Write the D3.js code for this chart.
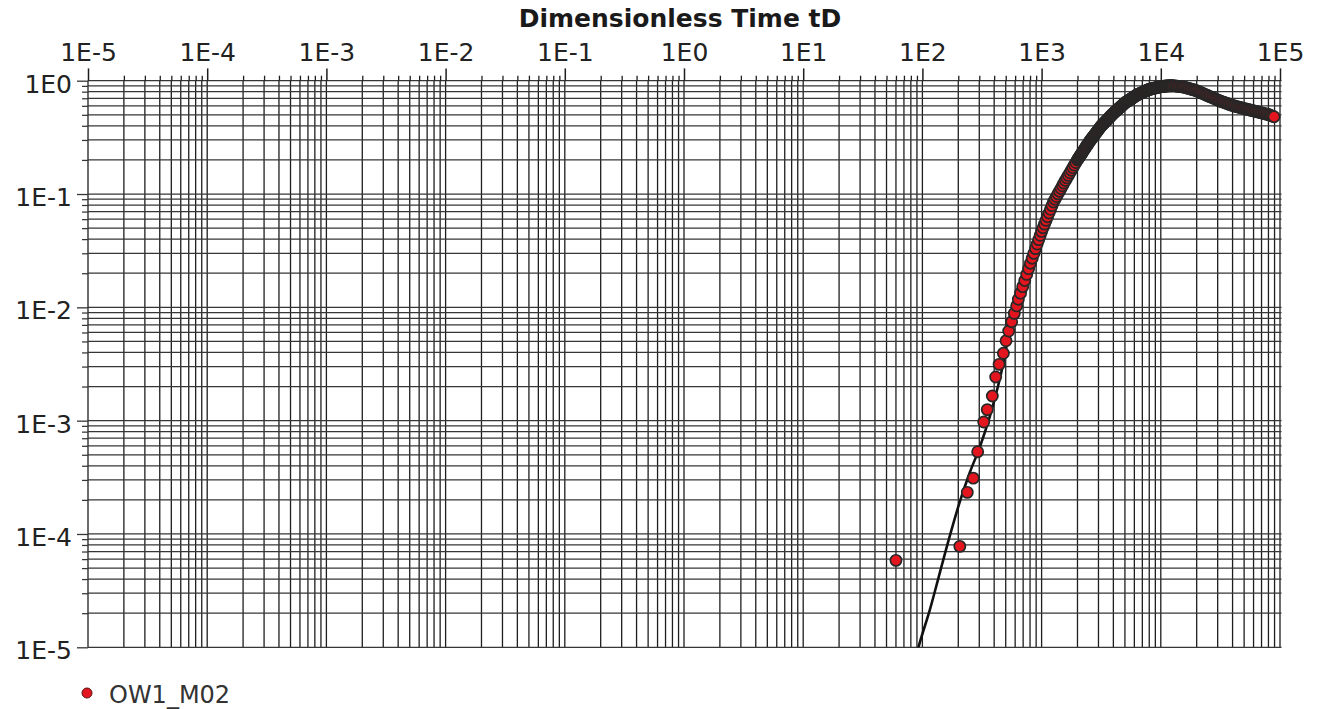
<!DOCTYPE html>
<html>
<head>
<meta charset="utf-8">
<script src="https://cdn.jsdelivr.net/npm/d3@7"></script>
<style>
  html, body { margin: 0; padding: 0; background: #fff; }
  svg { display: block; }
</style>
</head>
<body>
<svg id="chart" width="1322" height="709"></svg>
<script>
// ---------------- DATA ----------------
const xTickLabels = ["1E-5","1E-4","1E-3","1E-2","1E-1","1E0","1E1","1E2","1E3","1E4","1E5"];
const xTickValues = [1e-5,1e-4,1e-3,1e-2,1e-1,1e0,1e1,1e2,1e3,1e4,1e5];
const yTickLabels = ["1E-5","1E-4","1E-3","1E-2","1E-1","1E0"];
const yTickValues = [1e-5,1e-4,1e-3,1e-2,1e-1,1e0];

const titleText = "Dimensionless Time tD";
const seriesName = "OW1_M02";

// Observed points OW1_M02 (dimensionless time tD, dimensionless response)
const tD = [
  60, 206, 238, 267, 291, 327, 350, 386, 412, 440, 478, 503, 530, 561, 590, 618, 638,
  666, 694, 722, 750, 778, 806, 834, 862, 890, 918, 946, 974,
  1000, 1029, 1059, 1090, 1122, 1155, 1189, 1223, 1259, 1296, 1334, 1372,
  1413, 1454, 1496, 1540, 1585, 1631, 1679, 1728,
  1778, 1830, 1884, 1939, 1995, 2024, 2054, 2083, 2113, 2144, 2175, 2207,
  2239, 2271, 2304, 2338, 2371, 2406, 2441, 2476, 2512, 2548, 2585, 2623, 2661, 2699, 2738, 2778,
  2818, 2859, 2901, 2943, 2985, 3029, 3073, 3117, 3162, 3208, 3255, 3302, 3350, 3398, 3448, 3498,
  3548, 3600, 3652, 3705, 3758, 3813, 3868, 3924, 3981, 4039, 4097, 4157, 4217, 4278, 4340, 4403,
  4467, 4532, 4597, 4664, 4732, 4800, 4870, 4940, 5012, 5085, 5158, 5233, 5309, 5386, 5464, 5543,
  5623, 5705, 5788, 5872, 5957, 6043, 6131, 6220, 6310, 6401, 6494, 6588, 6683, 6780, 6879, 6978,
  7079, 7182, 7286, 7392, 7499, 7608, 7718, 7830, 7943, 8058, 8175, 8294, 8414, 8536, 8660, 8785,
  8913, 9042, 9173, 9306, 9441, 9577, 9716, 9857, 10000, 10145, 10292, 10441, 10593, 10746, 10902, 11060,
  11220, 11383, 11548, 11715, 11885, 12057, 12232, 12409,
  12589, 12957, 13335, 13725, 14125, 14538, 14962, 15399,
  15849, 16312, 16788, 17278, 17783, 18302, 18836, 19386,
  19953, 20535, 21135, 21752, 22387, 23041, 23714, 24406,
  25119, 25852, 26607, 27384, 28184, 29006, 29854, 30725,
  31623, 32546, 33497, 34475, 35481, 36517, 37584, 38681,
  39811, 40973, 42170, 43401, 44668, 45972, 47315, 48697,
  50119, 51582, 53088, 54639, 56234, 57876, 59566, 61306,
  63096, 64938, 66834, 68786, 70795, 72862, 74989, 77179,
  79433, 81752, 84140, 86596, 89125
];
const pD = [
  5.85e-5, 7.78e-5, 2.33e-4, 3.11e-4, 5.32e-4, 9.72e-4, 1.25e-3, 1.65e-3, 2.43e-3, 3.14e-3, 3.93e-3, 5.07e-3, 6.18e-3, 7.46e-3, 8.85e-3, 1.03e-2, 1.18e-2,
  0.01334, 0.01522, 0.01727, 0.01952, 0.02194, 0.02449, 0.02713, 0.02995, 0.03298, 0.03618, 0.0396, 0.04323,
  0.0468, 0.0504, 0.0543, 0.0586, 0.0631, 0.0680, 0.0733, 0.0790, 0.0851, 0.0899, 0.0950, 0.1003,
  0.1059, 0.1119, 0.1182, 0.1248, 0.1318, 0.1388, 0.1462, 0.1540,
  0.1622, 0.1708, 0.1799, 0.1895, 0.1995, 0.2042, 0.2089, 0.2138, 0.2188, 0.2239, 0.2291, 0.2345,
  0.2399, 0.2455, 0.2512, 0.2571, 0.2630, 0.2692, 0.2754, 0.2819, 0.2884, 0.2943, 0.3003, 0.3064, 0.3126, 0.3190, 0.3255, 0.3321,
  0.3388, 0.3458, 0.3528, 0.3600, 0.3673, 0.3748, 0.3824, 0.3902, 0.3981, 0.4045, 0.4109, 0.4175, 0.4242, 0.4310, 0.4378, 0.4448,
  0.4519, 0.4591, 0.4664, 0.4739, 0.4814, 0.4891, 0.4969, 0.5049, 0.5129, 0.5200, 0.5271, 0.5343, 0.5416, 0.5491, 0.5566, 0.5643,
  0.5721, 0.5800, 0.5880, 0.5961, 0.6043, 0.6126, 0.6210, 0.6296, 0.6383, 0.6447, 0.6512, 0.6578, 0.6645, 0.6712, 0.6780, 0.6849,
  0.6918, 0.6988, 0.7059, 0.7131, 0.7203, 0.7276, 0.7349, 0.7424, 0.7499, 0.7551, 0.7603, 0.7656, 0.7709, 0.7762, 0.7816, 0.7870,
  0.7925, 0.7980, 0.8035, 0.8091, 0.8147, 0.8203, 0.8260, 0.8317, 0.8375, 0.8405, 0.8435, 0.8465, 0.8495, 0.8526, 0.8558, 0.8588,
  0.8619, 0.8650, 0.8681, 0.8712, 0.8743, 0.8775, 0.8808, 0.8840, 0.8872, 0.8887, 0.8903, 0.8918, 0.8933, 0.8945, 0.8958, 0.8976,
  0.8995, 0.9000, 0.9005, 0.9010, 0.9016, 0.9018, 0.9020, 0.9018,
  0.9016, 0.8995, 0.8974, 0.8943, 0.8913, 0.8872, 0.8841, 0.8795,
  0.8750, 0.8674, 0.8600, 0.8525, 0.8453, 0.8380, 0.8309, 0.8236,
  0.8166, 0.8056, 0.7947, 0.7843, 0.7737, 0.7633, 0.7530, 0.7430,
  0.7328, 0.7235, 0.7140, 0.7049, 0.6958, 0.6869, 0.6780, 0.6693,
  0.6607, 0.6534, 0.6464, 0.6393, 0.6324, 0.6255, 0.6188, 0.6120,
  0.6053, 0.6005, 0.5957, 0.5909, 0.5861, 0.5814, 0.5768, 0.5722,
  0.5675, 0.5632, 0.5591, 0.5549, 0.5508, 0.5466, 0.5426, 0.5385,
  0.5346, 0.5305, 0.5266, 0.5226, 0.5188, 0.5149, 0.5111, 0.5072,
  0.5035, 0.4977, 0.4920, 0.4864, 0.4808
];

// Type curve (model)
const modelT = [85, 92.7, 115.9, 140.5, 170.5, 206.8, 250.7, 304, 369, 448, 543, 631, 794, 1000, 1259, 1585, 1995, 2512, 3162, 3981,
  5012, 6310, 7943, 10000, 12589, 15849, 19953, 25119, 31623, 39811, 50119, 63096, 79433, 89125, 100000];
const modelP = [7.0e-6, 1.0e-5, 2.17e-5, 4.61e-5, 9.77e-5, 1.95e-4, 3.52e-4, 5.89e-4, 1.10e-3, 2.38e-3, 6.3e-3, 1.12e-2, 0.0234, 0.0468,
  0.0851, 0.1318, 0.1995, 0.2884, 0.3981, 0.5129, 0.6383, 0.7499, 0.8375, 0.8872, 0.9016, 0.875, 0.8166, 0.7328, 0.6607, 0.6053,
  0.5675, 0.5346, 0.5035, 0.4808, 0.47];

// ---------------- CHART ----------------
const svg = d3.select("#chart");
const X0 = 88, X1 = 1280, Y0 = 647.3, Y1 = 80.7;
const x = d3.scaleLog().domain([1e-5, 1e5]).range([X0, X1]);
const y = d3.scaleLog().domain([1e-5, 1]).range([Y0, Y1]);
const isMajor = v => Math.abs(Math.log10(v) - Math.round(Math.log10(v))) < 1e-9;

const FONT = "'DejaVu Sans', Verdana, sans-serif";

// grid (1..9 per decade)
const xAll = x.ticks(30);
const yAll = y.ticks(30);
const grid = svg.append("g");
grid.append("g").selectAll("line").data(xAll).join("line")
  .attr("x1", d => x(d)).attr("x2", d => x(d))
  .attr("y1", Y1).attr("y2", Y0)
  .attr("stroke", "#1e1e1e").attr("stroke-width", 1.3);
grid.append("g").selectAll("line").data(yAll).join("line")
  .attr("x1", X0).attr("x2", X1 + 1.5)
  .attr("y1", d => y(d)).attr("y2", d => y(d))
  .attr("stroke", "#363636").attr("stroke-width", 1.25);

// top axis: minor ticks
const xMinor = xAll.filter(d => !isMajor(d));
svg.append("g").attr("transform", `translate(0,${Y1})`)
  .call(d3.axisTop(x).tickValues(xMinor).tickSize(5).tickFormat(""))
  .call(g => g.select(".domain").remove())
  .call(g => g.selectAll("line").attr("stroke", "#1e1e1e").attr("stroke-width", 1.3));
// top axis: major ticks + labels
svg.append("g").attr("transform", `translate(0,${Y1})`)
  .call(d3.axisTop(x).tickValues(xTickValues).tickSize(12.3).tickPadding(7.4)
    .tickFormat((d, i) => xTickLabels[i]))
  .call(g => g.select(".domain").remove())
  .call(g => g.selectAll("line").attr("stroke", "#1e1e1e").attr("stroke-width", 1.5))
  .call(g => g.selectAll("text").attr("font-family", FONT).attr("font-size", 25)
    .attr("fill", "#222").attr("dy", "0em"));

// left axis
const yMinor = yAll.filter(d => !isMajor(d));
svg.append("g").attr("transform", `translate(${X0},0)`)
  .call(d3.axisLeft(y).tickValues(yMinor).tickSize(6).tickFormat(""))
  .call(g => g.select(".domain").remove())
  .call(g => g.selectAll("line").attr("stroke", "#363636").attr("stroke-width", 1.25));
svg.append("g").attr("transform", `translate(${X0},0)`)
  .call(d3.axisLeft(y).tickValues(yTickValues).tickSize(11).tickPadding(5)
    .tickFormat((d, i) => yTickLabels[i]))
  .call(g => g.select(".domain").remove())
  .call(g => g.selectAll("line").attr("stroke", "#363636").attr("stroke-width", 1.3))
  .call(g => g.selectAll("text").attr("font-family", FONT).attr("font-size", 25)
    .attr("fill", "#222").attr("dy", "0.46em"));

// title
svg.append("text")
  .attr("x", 680).attr("y", 27)
  .attr("text-anchor", "middle")
  .attr("font-family", FONT).attr("font-weight", "bold").attr("font-size", 25)
  .attr("fill", "#1a1a1a")
  .text(titleText);

// clip
svg.append("clipPath").attr("id", "plotclip")
  .append("rect").attr("x", X0).attr("y", Y1 - 10).attr("width", X1 - X0 + 10).attr("height", Y0 - Y1 + 10);

// model line
const model = modelT.map((t, i) => [t, modelP[i]]);
svg.append("path")
  .attr("clip-path", "url(#plotclip)")
  .attr("d", d3.line().x(d => x(d[0])).y(d => y(d[1])).curve(d3.curveMonotoneX)(model))
  .attr("fill", "none").attr("stroke", "#111").attr("stroke-width", 2.6);

// observed points
const n = Math.min(tD.length, pD.length);
const pts = tD.slice(0, n).map((t, i) => [t, pD[i]]);
svg.append("g").selectAll("circle").data(pts).join("circle")
  .attr("cx", d => x(d[0])).attr("cy", d => y(d[1])).attr("r", 5.6)
  .attr("fill", "#e3161f").attr("stroke", "#282626").attr("stroke-width", 1.7);

// legend
svg.append("circle").attr("cx", 87).attr("cy", 693).attr("r", 5)
  .attr("fill", "#e3161f").attr("stroke", "#5a1010").attr("stroke-width", 1);
svg.append("text").attr("x", 109).attr("y", 703)
  .attr("font-family", FONT).attr("font-size", 24).attr("fill", "#333")
  .text(seriesName);
</script>
</body>
</html>
